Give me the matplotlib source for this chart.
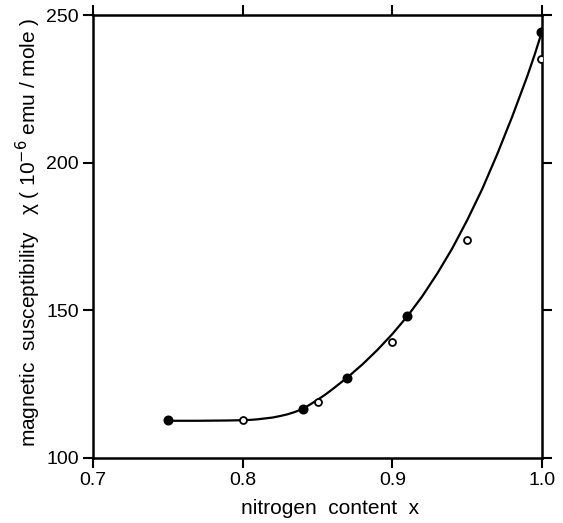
import numpy as np
from matplotlib import pyplot as plt

plt.rcParams['font.family'] = ['Liberation Sans', 'DejaVu Sans']

# filled circles
filled_x = [0.750, 0.840, 0.870, 0.910, 0.9995]
filled_y = [112.8, 116.5, 127.2, 148.2, 244.2]

# open circles
open_x = [0.800, 0.850, 0.900, 0.950, 0.9995]
open_y = [112.9, 119.0, 139.3, 173.8, 235.0]

# drawn curve
curve_x = [0.753, 0.770, 0.790, 0.800, 0.805, 0.810, 0.815, 0.820, 0.825, 0.830,
           0.835, 0.840, 0.845, 0.850, 0.855, 0.860, 0.870, 0.880, 0.890, 0.900,
           0.910, 0.920, 0.930, 0.940, 0.950, 0.960, 0.970, 0.980, 0.985, 0.990,
           0.995, 0.9995]
curve_y = [112.6, 112.6, 112.7, 112.8, 112.9, 113.1, 113.4, 113.7, 114.2, 114.8,
           115.6, 116.6, 118.1, 119.7, 121.4, 123.3, 127.3, 131.7, 136.6, 142.0,
           148.0, 154.8, 162.5, 171.0, 180.6, 191.1, 202.9, 215.6, 222.4, 229.2,
           236.6, 243.8]

xticks = [0.7, 0.8, 0.9, 1.0]
yticks = [100, 150, 200, 250]

fig = plt.figure(figsize=(5.63, 5.23), dpi=100)
ax = fig.add_axes([0.165, 0.1243, 0.798, 0.847])

ax.plot(curve_x, curve_y, color='black', lw=1.6, solid_capstyle='round',
        solid_joinstyle='round', zorder=2)
ax.plot(filled_x, filled_y, 'o', color='black', ms=6.2, zorder=3)
ax.plot(open_x, open_y, 'o', mfc='white', mec='black', mew=1.3, ms=5, zorder=3)

ax.set_xlim(0.7, 1.0)
ax.set_ylim(100, 250)
ax.set_xticks(xticks)
ax.set_xticklabels(['0.7', '0.8', '0.9', '1.0'])
ax.set_yticks(yticks)
ax.set_yticklabels([str(v) for v in yticks])

for s in ax.spines.values():
    s.set_linewidth(1.8)
ax.tick_params(direction='out', length=7, width=1.5, labelsize=14,
               top=True, right=True, pad=3)
ax.minorticks_off()

ax.set_xlabel('nitrogen  content  x', fontsize=15)
ax.xaxis.set_label_coords(0.528, -0.092)
ax.set_ylabel('magnetic  susceptibility   \u03c7 ( 10$^{-6}$ emu / mole )',
              fontsize=15)
ax.yaxis.set_label_coords(-0.112, 0.51)

fig.savefig('out.png', dpi=100)
